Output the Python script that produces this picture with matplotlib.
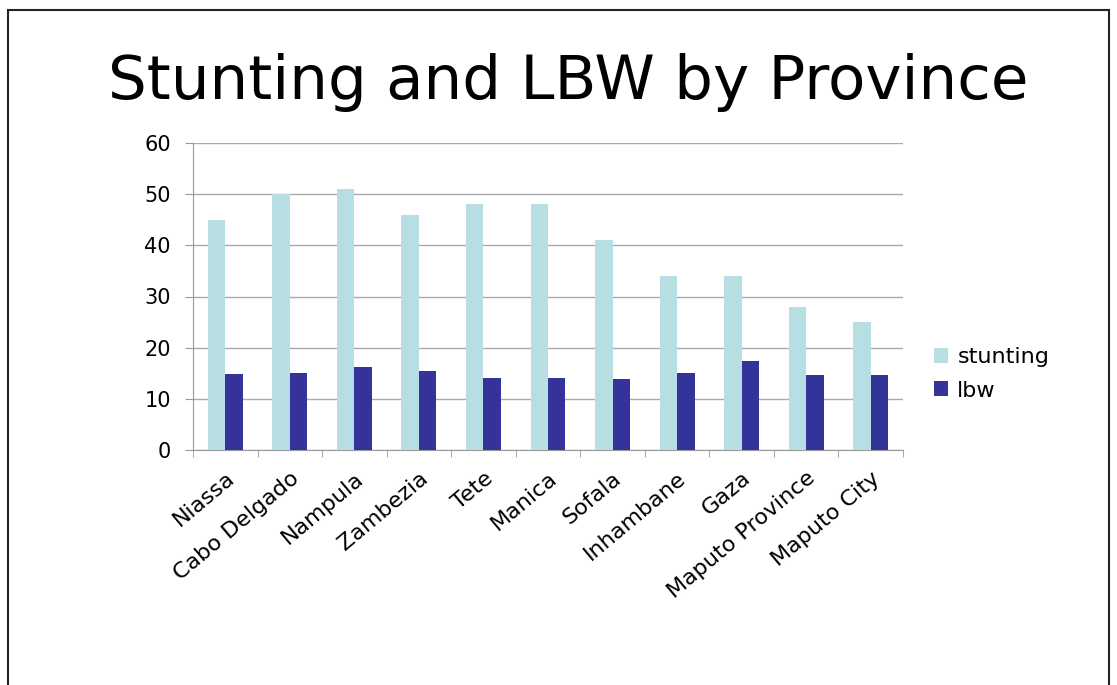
import matplotlib
matplotlib.use("Agg")
import matplotlib.pyplot as plt
import numpy as np
from matplotlib.patches import Rectangle

plt.rcParams['font.family'] = ['DejaVu Sans']

provinces = ["Niassa", "Cabo Delgado", "Nampula", "Zambezia", "Tete", "Manica",
             "Sofala", "Inhambane", "Gaza", "Maputo Province", "Maputo City"]
stunting = [45, 50, 51, 46, 48, 48, 41, 34, 34, 28, 25]
lbw = [14.8, 15.1, 16.3, 15.5, 14.1, 14.1, 13.8, 15.1, 17.4, 14.7, 14.7]
yticks = [0, 10, 20, 30, 40, 50, 60]

W, H = 1117, 685
fig = plt.figure(figsize=(W / 100, H / 100), dpi=100)
fig.patch.set_facecolor("white")

# outer frame
fig.add_artist(Rectangle((8 / W, -0.05), (1109 - 8) / W, 1.05 - 10 / H,
                         transform=fig.transFigure, fill=False,
                         edgecolor="#222222", linewidth=1.5))

ax = fig.add_axes([193 / W, 1 - 450 / H, (903 - 193) / W, (450 - 143) / H])
x = np.arange(len(provinces))
bw = 0.27
ax.bar(x - bw / 2, stunting, width=bw, color="#B7DEE3", label="stunting", zorder=3)
ax.bar(x + bw / 2, lbw, width=bw, color="#333399", label="lbw", zorder=3)

ax.set_xlim(-0.5, len(provinces) - 0.5)
ax.set_ylim(0, 60)
ax.set_yticks(yticks)
ax.yaxis.grid(True, color="#aaaaaa", linewidth=1, zorder=0)
ax.tick_params(axis="y", labelsize=15, length=6, color="#999999", direction="out", pad=10)
ax.set_xticks(x)
ax.set_xticklabels(provinces, rotation=40, ha="right", va="top",
                   rotation_mode="anchor", fontsize=16)
ax.tick_params(axis="x", length=0, pad=13)
ax.set_xticks(np.arange(len(provinces) + 1) - 0.5, minor=True)
ax.tick_params(axis="x", which="minor", length=5, color="#999999")
for s in ["top", "right"]:
    ax.spines[s].set_visible(False)
ax.spines["left"].set_color("#999999")
ax.spines["bottom"].set_color("#999999")

fig.text(568 / W, 1 - 83 / H, "Stunting and LBW by Province", ha="center", va="center",
         fontsize=44)

fig.legend(loc="center left", bbox_to_anchor=(914 / W, 1 - 374 / H), frameon=False,
           fontsize=16, handlelength=0.65, handleheight=0.65, handletextpad=0.4,
           labelspacing=0.6)

fig.savefig("out.png", dpi=100)
